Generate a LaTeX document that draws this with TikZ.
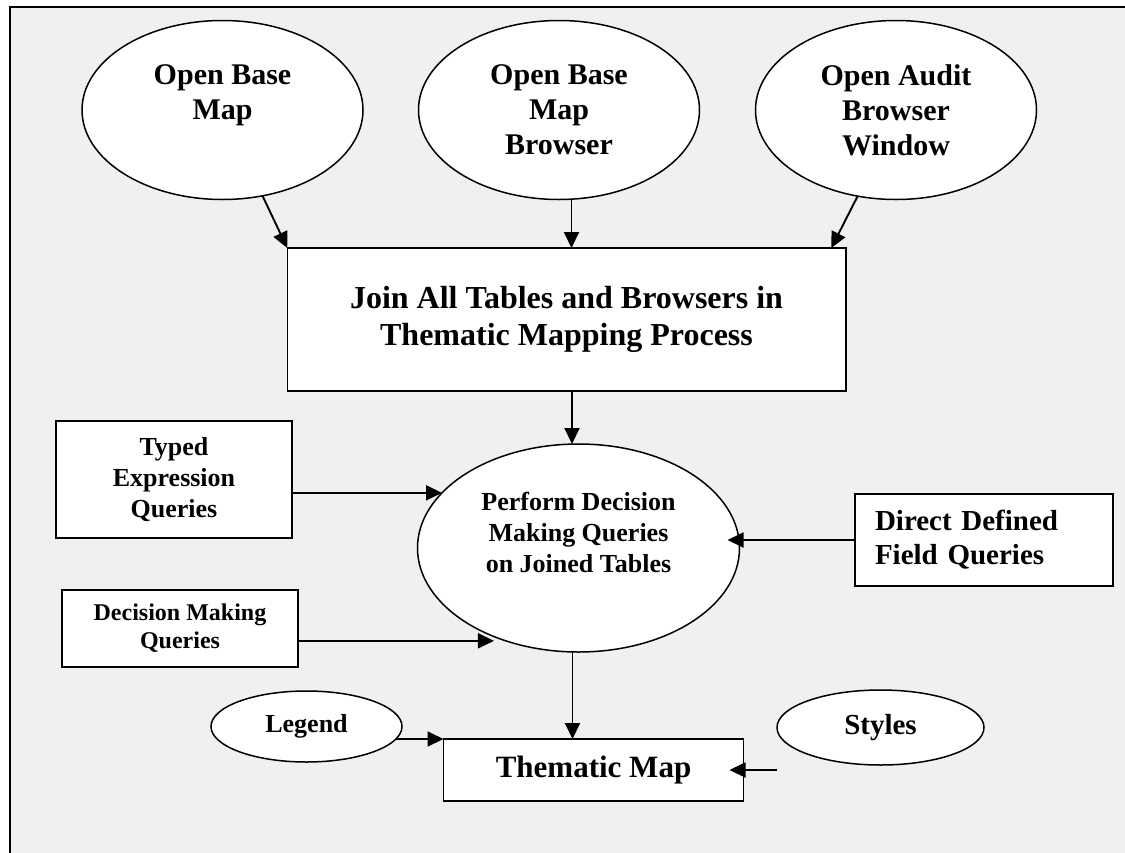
\documentclass[tikz,border=0pt]{standalone}
\usepackage{fontspec}
\setmainfont{Liberation Serif}
\usetikzlibrary{arrows.meta,positioning,shapes.geometric}
\definecolor{panel}{RGB}{240,240,240}
\newcommand{\fs}[2]{\fontsize{#1}{#2}\selectfont\bfseries}

\begin{document}
\begin{tikzpicture}[x=1pt, y=-1pt,
  box/.style={draw, fill=white, line width=1.5pt, inner sep=0pt, outer sep=0pt, align=center},
  oval/.style={box, ellipse},
  big/.style={oval, minimum width=281pt, minimum height=179pt, font=\fs{30}{35}},
  arr/.style={-{Triangle[length=16pt,width=15pt]}, line width=1.9pt}]
  \path[use as bounding box, clip] (0,0) rectangle (1125,852);
  \fill[panel] (10,7) rectangle (1140,870);
  \draw[line width=2pt] (10,870) -- (10,7) -- (1140,7);

  \node[big] (obmap) at (222.5,110) {Open Base\\Map\\\mbox{}};
  \node[big, right=55.5pt of obmap] (obbrowser) {Open Base\\Map\\Browser};
  \node[big, right=56pt of obbrowser] (obaudit) {Open Audit\\Browser\\Window};
  \node[box, below=48.5pt of obbrowser, xshift=7.5pt, minimum width=558.5pt, minimum height=143pt, font=\fs{32}{37}] (join) {Join All Tables and Browsers in\\Thematic Mapping Process};
  \node[oval, below=53pt of join, xshift=12pt, minimum width=322pt, minimum height=208pt, font=\fs{26}{31}] (perform) {Perform Decision\\Making Queries\\on Joined Tables\\\mbox{}};
  \node[box, minimum width=236pt, minimum height=117pt, font=\fs{26}{31}] (typed) at (174,479.5) {Typed\\Expression\\Queries};
  \node[box, minimum width=236pt, minimum height=77pt, font=\fs{24}{28}] (decision) at (180,628.5) {Decision Making\\Queries};
  \node[box, text width=218pt, inner xsep=20pt, minimum height=92pt, align=left, font=\fs{29}{34}] (direct) at (984,540) {Direct Defined\\Field Queries};
  \node[box, below=87pt of perform, xshift=15pt, minimum width=300pt, minimum height=62pt, font=\fs{31}{36}] (thematic) {Thematic Map};
  \node[oval, minimum width=191pt, minimum height=71pt, font=\fs{26}{31}] (legend) at (306.5,726.5) {Legend};
  \node[oval, minimum width=207pt, minimum height=75pt, font=\fs{29}{34}] (styles) at (880.5,727.5) {Styles};

  \draw[arr] (obmap.-65) -- (join.north west);
  \draw[arr] ([xshift=12.5pt]obbrowser.south) -- ([xshift=12.5pt]obbrowser.south|-join.north);
  \draw[arr] (obaudit.-114) -- ([xshift=-14.5pt]join.north east);
  \draw[arr] ([xshift=5.5pt]join.south) -- ([xshift=5.5pt]join.south|-perform.north);
  \draw[arr] (typed.east|-perform.158) -- (perform.158);
  \draw[arr] (decision.east|-perform.232) -- ([xshift=-12pt]perform.232);
  \draw[arr] (direct.west) -- ([xshift=-12pt]perform.east|-direct.west);
  \draw[arr] ([xshift=-6pt]perform.south) -- ([xshift=-6pt]perform.south|-thematic.north);
  \draw[arr] (legend.-8|-thematic.north) -- (thematic.north west);
  \draw[arr] (styles.west|-thematic.east) -- ([xshift=-14pt]thematic.east);
\end{tikzpicture}
\end{document}
